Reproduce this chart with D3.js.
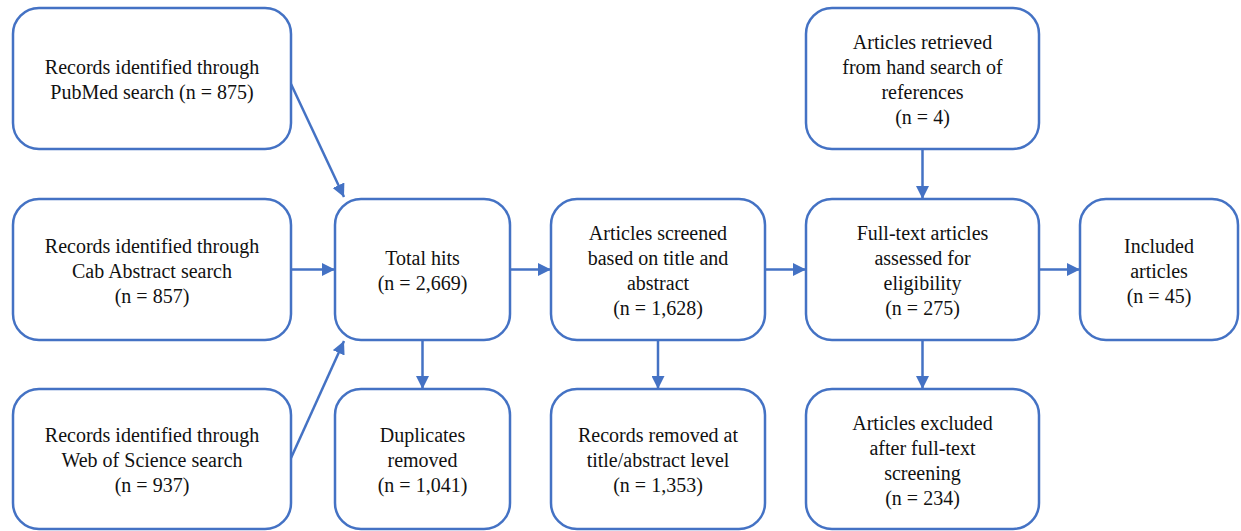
<!DOCTYPE html>
<html>
<head>
<meta charset="utf-8">
<script src="https://cdn.jsdelivr.net/npm/d3@7"></script>
<style>
  body { margin: 0; background: #fff; }
</style>
</head>
<body>
<div id="chart"></div>
<script>
// PRISMA-style flow: node labels and counts
const nodeIds = ["pubmed", "cab", "wos", "total", "dupes", "screened", "removed", "hand", "fulltext", "excluded", "included"];
const nodeLabels = [
  ["Records identified through", "PubMed search (n = 875)"],
  ["Records identified through", "Cab Abstract search"],
  ["Records identified through", "Web of Science search"],
  ["Total hits"],
  ["Duplicates", "removed"],
  ["Articles screened", "based on title and", "abstract"],
  ["Records removed at", "title/abstract level"],
  ["Articles retrieved", "from hand search of", "references"],
  ["Full-text articles", "assessed for", "eligibility"],
  ["Articles excluded", "after full-text", "screening"],
  ["Included", "articles"]
];
const nodeCounts = [null, "857", "937", "2,669", "1,041", "1,628", "1,353", "4", "275", "234", "45"];
const nodeCols = [0, 0, 0, 1, 1, 2, 2, 3, 3, 3, 4];
const nodeRows = [0, 1, 2, 1, 2, 1, 2, 0, 1, 2, 1];

// links between boxes
const links = [
  ["pubmed", "total"], ["cab", "total"], ["wos", "total"],
  ["total", "dupes"], ["total", "screened"],
  ["screened", "removed"], ["screened", "fulltext"],
  ["hand", "fulltext"], ["fulltext", "excluded"], ["fulltext", "included"]
];

const width = 1241, height = 531;
const blue = "#4472C4";

// layout: column edges and row edges
const colLeft = d3.scaleOrdinal().domain([0, 1, 2, 3, 4]).range([13, 335, 551, 806, 1080]);
const colRight = d3.scaleOrdinal().domain([0, 1, 2, 3, 4]).range([291, 510, 765, 1039, 1238]);
const rowTop = d3.scaleOrdinal().domain([0, 1, 2]).range([8, 199, 389]);
const rowBottom = d3.scaleOrdinal().domain([0, 1, 2]).range([149, 340, 529]);

const nodes = nodeIds.map((id, i) => {
  const lines = nodeLabels[i].slice();
  if (nodeCounts[i]) lines.push(`(n = ${nodeCounts[i]})`);
  const x0 = colLeft(nodeCols[i]), x1 = colRight(nodeCols[i]);
  const y0 = rowTop(nodeRows[i]), y1 = rowBottom(nodeRows[i]);
  return { id, lines, x0, x1, y0, y1, cx: (x0 + x1) / 2, cy: (y0 + y1) / 2 };
});
const byId = new Map(nodes.map(n => [n.id, n]));

const svg = d3.select("#chart")
  .append("svg")
  .attr("width", width)
  .attr("height", height);

svg.append("defs").append("marker")
  .attr("id", "arrow")
  .attr("viewBox", "0 0 10 10")
  .attr("refX", 10)
  .attr("refY", 5)
  .attr("markerUnits", "userSpaceOnUse")
  .attr("markerWidth", 13)
  .attr("markerHeight", 13)
  .attr("orient", "auto")
  .append("path")
  .attr("d", "M0,0 L10,5 L0,10 Z")
  .attr("fill", blue);

// endpoints for each link
function linkPoints(s, t) {
  if (s.x1 < t.x0 && s.cy !== t.cy) {
    // diagonal from source box to a corner of target box
    const fromY = s.cy < t.cy ? s.y0 + 76 : s.y0 + 69;
    const toY = s.cy < t.cy ? t.y0 - 2 : t.y1 + 1;
    return [[s.x1, fromY], [t.x0 + 9, toY]];
  }
  if (s.x1 < t.x0) return [[s.x1, s.cy], [t.x0, t.cy]];
  return [[s.cx, s.y1], [t.cx, t.y0]];
}

svg.selectAll("line.link")
  .data(links)
  .enter()
  .append("line")
  .attr("class", "link")
  .each(function([a, b]) {
    const [p, q] = linkPoints(byId.get(a), byId.get(b));
    d3.select(this)
      .attr("x1", p[0]).attr("y1", p[1])
      .attr("x2", q[0]).attr("y2", q[1]);
  })
  .attr("stroke", blue)
  .attr("stroke-width", 2.5)
  .attr("marker-end", "url(#arrow)");

const box = svg.selectAll("g.node")
  .data(nodes)
  .enter()
  .append("g")
  .attr("class", "node");

box.append("rect")
  .attr("x", d => d.x0)
  .attr("y", d => d.y0)
  .attr("width", d => d.x1 - d.x0)
  .attr("height", d => d.y1 - d.y0)
  .attr("rx", 26)
  .attr("fill", "#fff")
  .attr("stroke", blue)
  .attr("stroke-width", 2.5);

// one text element per label line
const lineH = 25;
box.selectAll("text")
  .data(d => d.lines.map((ln, i) => ({
    ln,
    x: d.cx,
    y: d.cy - (d.lines.length - 1) * lineH / 2 + 8 + i * lineH
  })))
  .enter()
  .append("text")
  .attr("x", d => d.x)
  .attr("y", d => d.y)
  .attr("text-anchor", "middle")
  .style("font-family", "'Liberation Serif'")
  .style("font-size", "20px")
  .attr("fill", "#111")
  .text(d => d.ln);
</script>
</body>
</html>
